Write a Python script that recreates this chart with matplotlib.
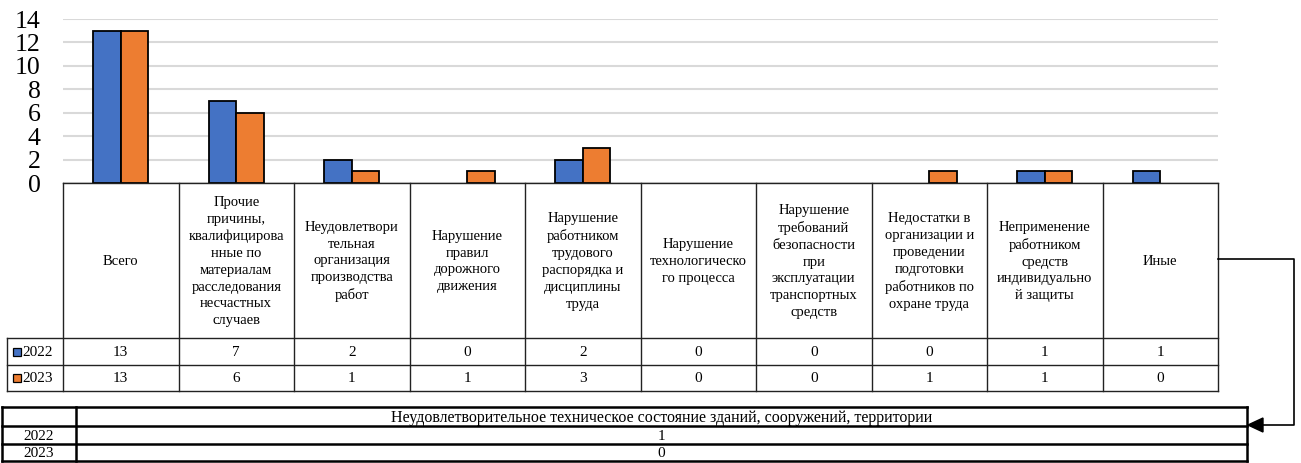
import matplotlib.pyplot as plt
from matplotlib.patches import Rectangle, Polygon

plt.rcParams['font.family'] = ['Liberation Serif', 'DejaVu Serif']

# Data
categories = [
    "Всего",
    "Прочие\nпричины,\nквалифицирова\nнные по\nматериалам\nрасследования\nнесчастных\nслучаев",
    "Неудовлетвори\nтельная\nорганизация\nпроизводства\nработ",
    "Нарушение\nправил\nдорожного\nдвижения",
    "Нарушение\nработником\nтрудового\nраспорядка и\nдисциплины\nтруда",
    "Нарушение\nтехнологическо\nго процесса",
    "Нарушение\nтребований\nбезопасности\nпри\nэксплуатации\nтранспортных\nсредств",
    "Недостатки в\nорганизации и\nпроведении\nподготовки\nработников по\nохране труда",
    "Неприменение\nработником\nсредств\nиндивидуально\nй защиты",
    "Иные",
]
years = ["2022", "2023"]
values_2022 = [13, 7, 2, 0, 2, 0, 0, 0, 1, 1]
values_2023 = [13, 6, 1, 1, 3, 0, 0, 1, 1, 0]
extra_category = "Неудовлетворительное техническое состояние зданий, сооружений, территории"
extra_values = [1, 0]

colors = ["#4472C4", "#ED7D31"]

W, H = 1301, 463
fig = plt.figure(figsize=(W / 100, H / 100), dpi=100)

# layout in pixels
x0, x1 = 63, 1218
y_top, y_zero = 19, 183
col_w = (x1 - x0) / len(categories)

ax = fig.add_axes([x0 / W, 1 - y_zero / H, (x1 - x0) / W, (y_zero - y_top) / H])
n = len(categories)
pos = [i + 0.5 for i in range(n)]
bw = 0.24
for vals, off, col in [(values_2022, -bw / 2, colors[0]), (values_2023, bw / 2, colors[1])]:
    ax.bar([p + off for p in pos], vals, bw, color=col, edgecolor="black",
           linewidth=[1.3 if v else 0 for v in vals], zorder=3)
ax.set_xlim(0, n)
ax.set_ylim(0, 14)
ax.set_yticks(range(0, 15, 2))
ax.set_xticks([])
ax.tick_params(axis="y", length=0, pad=16, labelsize=18.5)
ax.grid(axis="y", color="#d9d9d9", linewidth=1.5, zorder=0)
for s in ax.spines.values():
    s.set_visible(False)

# overlay axes in pixel coordinates for the tables
ov = fig.add_axes([0, 0, 1, 1])
ov.set_xlim(0, W)
ov.set_ylim(H, 0)
ov.axis("off")

def line(xs, ys, lw=1.0, c="#222222"):
    ov.plot(xs, ys, color=c, linewidth=lw, solid_capstyle="projecting")

# data table under the chart
hdr_bot, r1_bot, r2_bot = 338, 365, 391
leg_x = 7
fs = 10.5
line([x0, x1], [y_zero, y_zero])
line([leg_x, x1], [hdr_bot, hdr_bot])
line([leg_x, x1], [r1_bot, r1_bot])
line([leg_x, x1], [r2_bot, r2_bot])
line([leg_x, leg_x], [hdr_bot, r2_bot])
for i in range(n + 1):
    xx = x0 + i * col_w
    line([xx, xx], [y_zero, r2_bot])

for i, cat in enumerate(categories):
    cx = x0 + (i + 0.5) * col_w
    ov.text(cx, (y_zero + hdr_bot) / 2 + 1, cat, ha="center", va="center", fontsize=fs, linespacing=1.38)
    ov.text(cx, (hdr_bot + r1_bot) / 2 + 1, str(values_2022[i]), ha="center", va="center", fontsize=11)
    ov.text(cx, (r1_bot + r2_bot) / 2 + 1, str(values_2023[i]), ha="center", va="center", fontsize=11)

for j, (yr, col) in enumerate(zip(years, colors)):
    yc = (hdr_bot + r1_bot) / 2 if j == 0 else (r1_bot + r2_bot) / 2
    ov.add_patch(Rectangle((13, yc - 4), 8, 8, facecolor=col, edgecolor="black", linewidth=0.9))
    ov.text(22, yc + 1, yr, ha="left", va="center", fontsize=11)

# extra table at the bottom
bx0, bx1, bx2 = 2, 76, 1247
by = [407, 426, 444, 461]
for yy in by:
    line([bx0, bx2], [yy, yy], lw=1.8, c="black")
for xx in [bx0, bx1, bx2]:
    line([xx, xx], [by[0], by[-1]], lw=1.8, c="black")
mid = (bx1 + bx2) / 2
ov.text(mid, (by[0] + by[1]) / 2 + 1, extra_category, ha="center", va="center", fontsize=11.5)
for k, yr in enumerate(years):
    yc = (by[k + 1] + by[k + 2]) / 2 + 1
    ov.text((bx0 + bx1) / 2, yc, yr, ha="center", va="center", fontsize=11)
    ov.text(mid, yc, str(extra_values[k]), ha="center", va="center", fontsize=11)

# connector arrow from "Иные" to the extra table
ay = 259
line([x1, 1294, 1294, 1262], [ay, ay, 425, 425], lw=1.2, c="black")
ov.add_patch(Polygon([[1248, 425], [1263, 418], [1263, 432]], closed=True, facecolor="black", edgecolor="black"))

fig.savefig("out.png", dpi=100)
